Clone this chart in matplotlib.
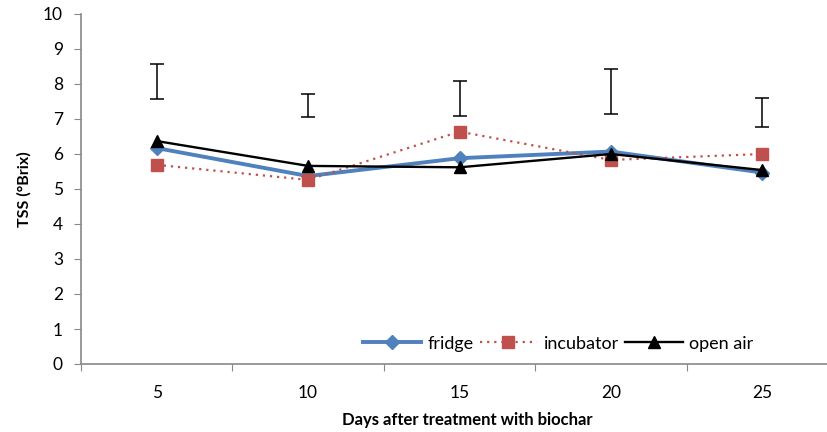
import matplotlib
matplotlib.use("Agg")
import matplotlib.pyplot as plt
import numpy as np

plt.rcParams['font.family'] = ['Lato', 'DejaVu Sans']

days = ['5', '10', '15', '20', '25']
fridge = [6.17, 5.37, 5.88, 6.07, 5.47]
incubator = [5.69, 5.26, 6.64, 5.83, 6.00]
open_air = [6.37, 5.66, 5.62, 6.00, 5.54]

# LSD bars drawn above the curves
lsd_mid = [8.07, 7.38, 7.59, 7.79, 7.19]
lsd_half = [0.51, 0.32, 0.50, 0.64, 0.42]

x = np.arange(len(days))

fig = plt.figure(figsize=(8.27, 4.32), dpi=100)
ax = fig.add_axes([81 / 827, 1 - 364 / 432, 757 / 827, 350 / 432])

ax.plot(x, fridge, color='#4F81BD', lw=2.8, marker='D', ms=7,
        label='fridge', zorder=3)
ax.plot(x, incubator, color='#C0504D', lw=1.6, ls=(0, (1, 2.2)),
        marker='s', ms=8, label='incubator', zorder=4)
ax.plot(x, open_air, color='black', lw=1.7, marker='^', ms=8,
        label='open air', zorder=5)
ax.errorbar(x, lsd_mid, yerr=lsd_half, fmt='none', ecolor='black',
            elinewidth=1.1, capsize=5, capthick=1.1)

ax.set_xlim(-0.5, len(days) - 0.5)
ax.set_ylim(0, 10)
ax.set_yticks(range(0, 11))

# category labels in the middle, tick marks between categories
ax.set_xticks(np.arange(-0.5, len(days)), labels=[''] * (len(days) + 1))
ax.set_xticks(x, labels=days, minor=True)
ax.tick_params(axis='x', which='minor', length=0, pad=15, labelsize=12.5)
ax.tick_params(axis='x', which='major', length=5, color='#888888')
ax.tick_params(axis='y', length=5, color='#888888', labelsize=12.5, pad=8)

for side in ['top', 'right']:
    ax.spines[side].set_visible(False)
for side in ['left', 'bottom']:
    ax.spines[side].set_color('#888888')
    ax.spines[side].set_linewidth(1.2)

ax.set_ylabel('TSS (°Brix)', fontsize=11.5, fontweight='bold', labelpad=8)
fig.text(467 / 827, 1 - 420 / 432, 'Days after treatment with biochar',
         ha='center', va='center', fontsize=12, fontweight='bold')

ax.legend(loc='lower left', bbox_to_anchor=(0.3725, 0.035), ncol=3,
          frameon=False, fontsize=13, handlelength=3.2, columnspacing=0.35,
          handletextpad=0.35, borderpad=0, borderaxespad=0)

fig.savefig('out.png', dpi=100)
